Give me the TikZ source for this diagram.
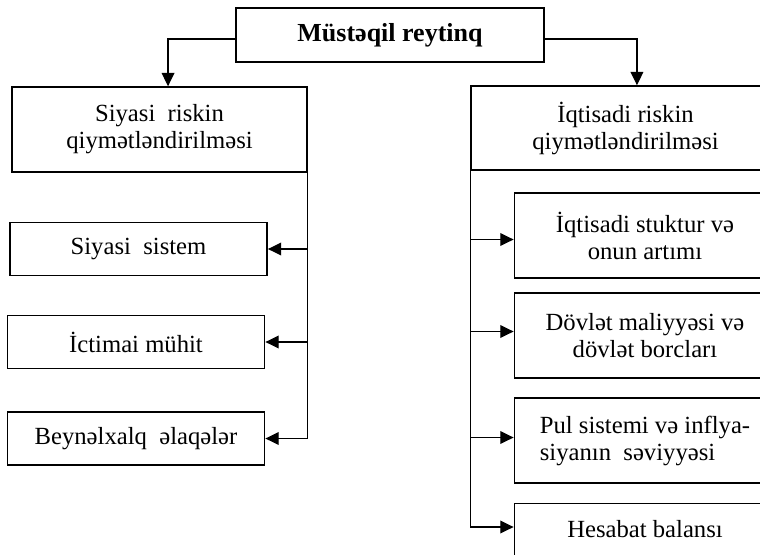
\documentclass[tikz,border=0pt]{standalone}
\usepackage{fontspec}
\setmainfont{Liberation Serif}
\usetikzlibrary{arrows.meta}
\begin{document}
\begin{tikzpicture}[x=0.75pt,y=-0.75pt,
  box/.style={draw, line width=1.1pt, inner sep=0pt, align=center,
    font=\fontsize{18.5}{20.25}\selectfont},
  sidebox/.style={box, minimum width=193pt, minimum height=40pt},
  ecobox/.style={box, minimum width=196pt, minimum height=63.75pt},
  link/.style={line width=1pt},
  arr/.style={link, -{Triangle[length=10pt,width=9.5pt]}}]
\useasboundingbox (0,0) rectangle (760,554);

% root
\node[box, minimum width=231pt, minimum height=40.5pt,
  font=\bfseries\fontsize{19.5}{22}\selectfont] (top) at (390,35) {Müstəqil reytinq};

% political branch
\node[box, minimum width=221.25pt, minimum height=63.75pt] (lmain) at (159.5,129.5)
  {Siyasi\ \ riskin\\qiymətləndirilməsi};
\node[sidebox] (l1) at (138.5,249) {Siyasi\ \ sistem};
\node[sidebox] (l2) at (136,342) {İctimai mühit};
\node[sidebox] (l3) at (136,438.5) {Beynəlxalq\ \ əlaqələr};

% economic branch
\node[box, minimum width=231.75pt, minimum height=63pt] (rmain) at (625.5,128)
  {İqtisadi riskin\\qiymətləndirilməsi};
\node[ecobox] (r1) at (645,235.5) {İqtisadi stuktur və\\onun artımı};
\node[ecobox] (r2) at (645,335.5) {Dövlət maliyyəsi və\\dövlət borcları};
\node[ecobox, align=left] (r3) at (645,440.5) {Pul sistemi və inflya-\\siyanın\ \ səviyyəsi};
\node[box, minimum width=196pt, text height=25.5pt, text depth=38.25pt,
  anchor=north] (r4) at (645,503) {Hesabat balansı};

% root to the two branches
\draw[arr] ([yshift=-3pt]top.west) -| ([xshift=6.4pt]lmain.north);
\draw[arr] ([yshift=-3pt]top.east) -| ([xshift=8.6pt]rmain.north);

% political sub-items
\draw[arr] (lmain.south east) |- (l3.east);
\draw[arr] (lmain.south east |- l1.east) -- (l1.east);
\draw[arr] (lmain.south east |- l2.east) -- (l2.east);

% economic sub-items
\draw[arr] (rmain.south west) |- ([yshift=-18pt]r4.north west);
\draw[arr] (rmain.south west |- r1.west) ++(0,4) -- ([yshift=-3pt]r1.west);
\draw[arr] (rmain.south west |- r2.west) ++(0,-4) -- ([yshift=3pt]r2.west);
\draw[arr] (rmain.south west |- r3.west) ++(0,-3) -- ([yshift=2.25pt]r3.west);
\end{tikzpicture}
\end{document}
